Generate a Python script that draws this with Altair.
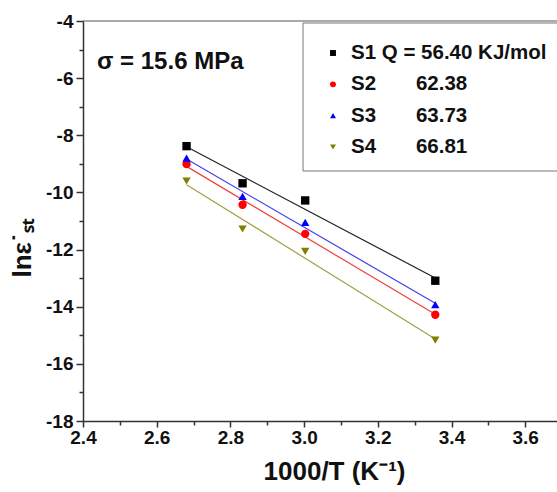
import altair as alt
import pandas as pd

# ---- data ----
x_vals = [2.681, 2.833, 3.003, 3.356]          # 1000/T (K^-1)
s1 = [-8.38, -9.68, -10.28, -13.09]
s2 = [-9.01, -10.43, -11.45, -14.28]
s3 = [-8.80, -10.14, -11.05, -13.93]
s4 = [-9.60, -11.28, -12.06, -15.17]

NB = "\u00a0"
series_labels = [
    "S1 Q = 56.40 KJ/mol",
    "S2" + NB * 7 + "62.38",
    "S3" + NB * 7 + "63.73",
    "S4" + NB * 7 + "66.81",
]
marker_colors = ["#000000", "#FF0000", "#0000FF", "#808000"]
line_colors = ["#222222", "#F04040", "#4040F0", "#A0A048"]
shapes = ["square", "circle", "triangle-up", "triangle-down"]
annotation = ["σ = 15.6 MPa"]
x_ticks = [2.4, 2.5, 2.6, 2.7, 2.8, 2.9, 3.0, 3.1, 3.2, 3.3, 3.4, 3.5, 3.6]
y_ticks = list(range(-18, -3))

rows = []
for lab, ys in zip(series_labels, [s1, s2, s3, s4]):
    for xv, yv in zip(x_vals, ys):
        rows.append({"T": xv, "lne": yv, "series": lab})
df = pd.DataFrame(rows)
ann_df = pd.DataFrame({"txt": annotation})
legend_df = pd.DataFrame({"series": series_labels, "row": list(range(len(series_labels)))})

W, H = 474, 400
FONT = "Liberation Sans"

x_scale = alt.Scale(domain=[2.4, 2.4 + W / 368.5], nice=False, zero=False)
y_scale = alt.Scale(domain=[-18, -4], nice=False, zero=False)
color_scale = alt.Scale(domain=series_labels, range=marker_colors)
shape_scale = alt.Scale(domain=series_labels, range=shapes)

x_axis = alt.Axis(
    values=x_ticks,
    labelExpr="round(datum.value*10) % 2 === 0 ? format(datum.value, '.1f') : ''",
    tickSize={"condition": {"test": "round(datum.value*10) % 2 === 0", "value": 6}, "value": 4},
    title="1000/T (K⁻¹)", grid=False,
    labelFontSize=19, labelFontWeight="bold", labelFont=FONT, labelColor="#111",
    labelPadding=1, labelFlush=False,
    titleFontSize=26, titleFontWeight="bold", titleFont=FONT, titleColor="#111",
    titleX=251, titleY=37, titleBaseline="top",
    domainColor="#333", domainWidth=1.5, tickColor="#333", tickWidth=1.5,
)
y_axis = alt.Axis(
    values=y_ticks,
    labelExpr="datum.value % 2 === 0 ? ('' + datum.value) : ''",
    tickSize={"condition": {"test": "datum.value % 2 === 0", "value": 7}, "value": 4},
    title="lnε˙ₛₜ", grid=False,
    labelFontSize=19, labelFontWeight="bold", labelFont=FONT, labelColor="#111",
    labelPadding=3, labelFlush=False,
    titleFontSize=26, titleFontWeight="bold", titleFont=FONT, titleColor="#111",
    titleX=-61, titleY=227, titleBaseline="middle", titleAngle=270,
    domainColor="#333", domainWidth=1.5, tickColor="#333", tickWidth=1.5,
)

lines = alt.Chart(df).transform_regression(
    "T", "lne", groupby=["series"]
).transform_calculate(
    fit_series="datum.series"
).mark_line(strokeWidth=1.2).encode(
    x=alt.X("T:Q", scale=x_scale, axis=x_axis),
    y=alt.Y("lne:Q", scale=y_scale, axis=y_axis),
    stroke=alt.Stroke("fit_series:N", scale=alt.Scale(domain=series_labels, range=line_colors), legend=None),
    detail="fit_series:N",
)

points = alt.Chart(df).mark_point(filled=True, size=70, opacity=1).encode(
    x=alt.X("T:Q", scale=x_scale, axis=x_axis),
    y=alt.Y("lne:Q", scale=y_scale, axis=y_axis),
    color=alt.Color("series:N", scale=color_scale, legend=None),
    shape=alt.Shape("series:N", scale=shape_scale, legend=None),
)

top_border = alt.Chart(ann_df).mark_rule(color="#555", strokeWidth=1).encode(
    x=alt.value(0), x2=alt.value(W), y=alt.value(0)
)

text = alt.Chart(ann_df).mark_text(
    align="left", baseline="middle", fontSize=24, fontWeight="bold", font=FONT, color="#111"
).encode(x=alt.value(14), y=alt.value(41), text="txt:N")

# ---- legend box drawn as marks ----
row_offset = alt.YOffset("row:Q", scale=alt.Scale(domain=[0, 3], range=[0, 94]))

legend_box = alt.Chart(ann_df).mark_rect(
    fill="white", stroke="#777", strokeWidth=1
).encode(x=alt.value(220), x2=alt.value(490), y=alt.value(2), y2=alt.value(150))

legend_symbols = alt.Chart(legend_df).mark_point(filled=True, size=35, opacity=1).encode(
    x=alt.value(250), y=alt.value(32), yOffset=row_offset,
    color=alt.Color("series:N", scale=color_scale, legend=None),
    shape=alt.Shape("series:N", scale=shape_scale, legend=None),
)

legend_text = alt.Chart(legend_df).mark_text(
    align="left", baseline="middle", fontSize=20.5, fontWeight="bold", font=FONT, color="#111"
).encode(x=alt.value(268), y=alt.value(32), yOffset=row_offset, text="series:N")

chart = alt.layer(
    lines, points, top_border, text, legend_box, legend_symbols, legend_text
).properties(
    width=W, height=H,
    autosize=alt.AutoSizeParams(type="none"),
    padding={"left": 83, "top": 21, "right": 0, "bottom": 71},
    background="white",
).configure_view(stroke=None)

chart.save("out.html", embed_options={"renderer": "svg", "actions": False})
